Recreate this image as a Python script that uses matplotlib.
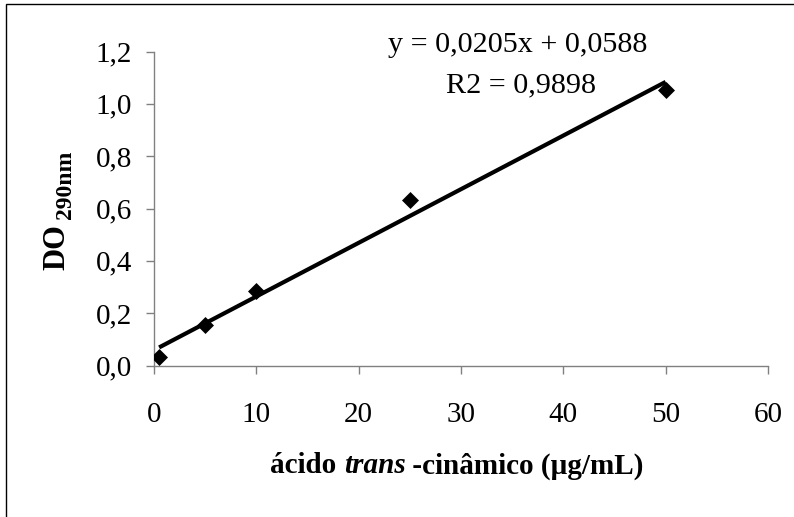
import numpy as np
import matplotlib
matplotlib.use("Agg")
import matplotlib.pyplot as plt
from matplotlib.patches import Rectangle
from matplotlib.offsetbox import TextArea, HPacker, AnnotationBbox

plt.rcParams['font.family'] = 'Liberation Serif'

# trans-cinnamic acid standard curve
conc = [0.5, 5, 10, 25, 50]
absorb = [0.033, 0.155, 0.285, 0.633, 1.053]
slope = 0.0205
intercept = 0.0588
r2 = 0.9898

xticks = [0, 10, 20, 30, 40, 50, 60]
yticks = [0.0, 0.2, 0.4, 0.6, 0.8, 1.0, 1.2]

W, H = 794, 517
fig = plt.figure(figsize=(W / 100, H / 100), dpi=100)
ax = fig.add_axes([154 / W, 1 - 365.5 / H, (768 - 154) / W, (365.5 - 51.5) / H])

# outer chart border
fig.patches.append(Rectangle((6 / W, -0.05), 1.1, 1 - 4 / H + 0.05, transform=fig.transFigure,
                             fill=False, edgecolor='black', linewidth=1.0))

ax.scatter(conc, absorb, marker='D', s=75, color='black', zorder=3, linewidths=0)
xfit = np.array([min(conc), max(conc)])
ax.plot(xfit, slope * xfit + intercept, color='black', linewidth=3, solid_capstyle='butt', zorder=2)

ax.set_xlim(0, 60)
ax.set_ylim(0, 1.2)
ax.set_xticks(xticks)
ax.set_yticks(yticks)
ax.set_xticklabels([str(t) for t in xticks])
ax.set_yticklabels([f'{t:.1f}'.replace('.', ',') for t in yticks])

for side in ['top', 'right']:
    ax.spines[side].set_visible(False)
for side in ['left', 'bottom']:
    ax.spines[side].set_color('#808080')
    ax.spines[side].set_linewidth(1.0)
ax.tick_params(axis='both', direction='out', length=6, width=1, color='#808080',
               labelsize=21, labelcolor='black')
ax.tick_params(axis='x', pad=20)
ax.tick_params(axis='y', pad=10)

eq = f'y = {slope:.4f}x + {intercept:.4f}'.replace('.', ',')
r2txt = f'R2 = {r2:.4f}'.replace('.', ',')
fig.text(518 / W, 1 - 52 / H, eq, ha='center', va='baseline', fontsize=21.7)
fig.text(521 / W, 1 - 92 / H, r2txt, ha='center', va='baseline', fontsize=21.7)

# y label: "DO" with a smaller subscript "290nm"
fig.text(57 / W, 1 - 247 / H, 'DO', rotation=90, ha='center', va='center',
         fontsize=22, fontweight='bold')
fig.text(66 / W, 1 - 185 / H, '290nm', rotation=90, ha='center', va='center',
         fontsize=17, fontweight='bold')

parts = [TextArea('ácido ', textprops=dict(fontsize=21, fontweight='bold')),
         TextArea('trans', textprops=dict(fontsize=21, fontweight='bold', style='italic')),
         TextArea(' -cinâmico (µg/mL)', textprops=dict(fontsize=21, fontweight='bold'))]
box = HPacker(children=parts, align='baseline', pad=0, sep=0)
ab = AnnotationBbox(box, (457 / W, 1 - 466 / H), xycoords='figure fraction',
                    frameon=False, box_alignment=(0.5, 0.5))
fig.add_artist(ab)

fig.savefig('out.png', dpi=100)
